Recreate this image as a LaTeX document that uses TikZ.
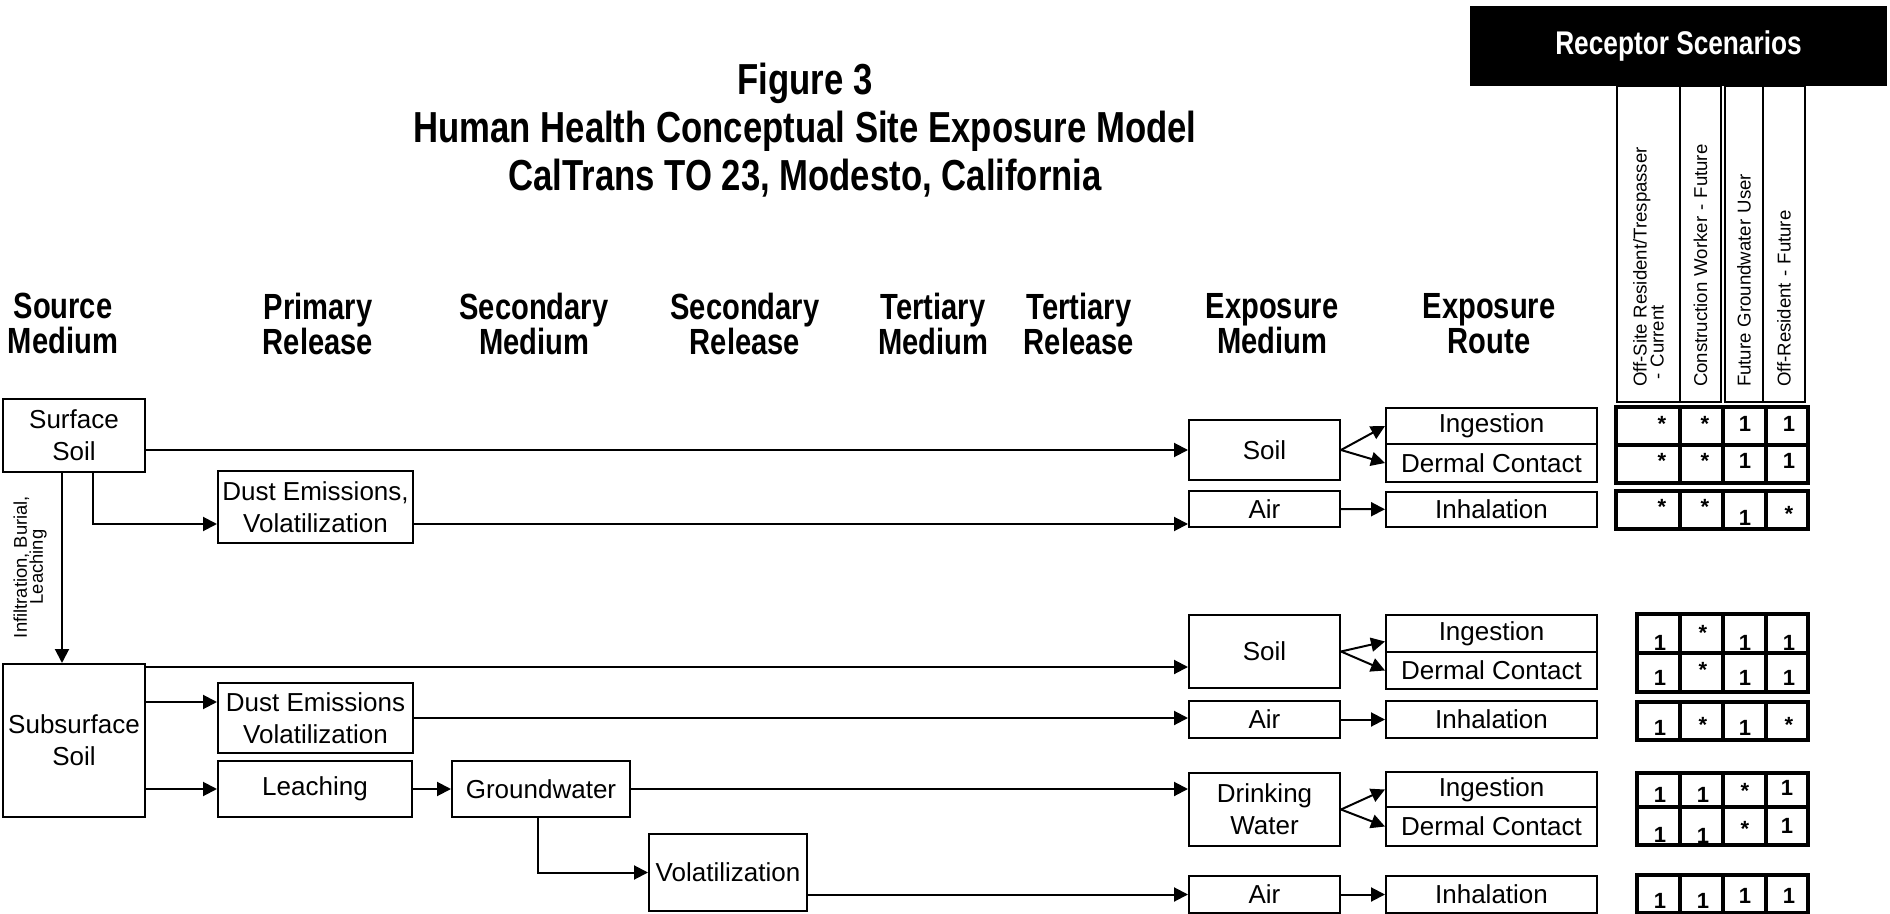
\documentclass[tikz,border=0pt]{standalone}
\usepackage{fontspec}
\setmainfont{Liberation Sans}
\newfontfamily\narrowsf[FakeStretch=0.8]{Liberation Sans}
\usetikzlibrary{arrows.meta, positioning}

\tikzset{
	box/.style={draw, line width=1pt, inner sep=1pt, align=center, font=\fontsize{13}{15.8}\selectfont},
	arr/.style={-{Triangle[length=7pt,width=7pt]}, line width=1pt},
	hdr/.style={align=center, font=\narrowsf\bfseries\fontsize{18.2}{17.5}\selectfont},
	colhead/.style={draw, line width=1.2pt, rotate=90, minimum width=158pt, text width=143pt, inner xsep=7.5pt, inner ysep=0pt, align=left, font=\fontsize{9.3}{8.5}\selectfont},
	cell/.style={line width=1.7pt},
	entry/.style={anchor=base, inner sep=0pt, font=\bfseries\fontsize{11}{13}\selectfont}
}

\begin{document}
\begin{tikzpicture}[x=0.5pt, y=-0.5pt]
				\useasboundingbox (0,0) rectangle (1890,914);

				\node (Title) [align=center, font=\narrowsf\bfseries\fontsize{21.7}{24}\selectfont] at (805,130) {Figure 3\\Human Health Conceptual Site Exposure Model\\CalTrans TO 23, Modesto, California};

				\node (HSrc) [hdr] at (63,323.5) {Source\\Medium};
				\node (HPri) [hdr] at (318,323.5) {Primary\\Release};
				\node (HSecM) [hdr] at (534,323.5) {Secondary\\Medium};
				\node (HSecR) [hdr] at (745,323.5) {Secondary\\Release};
				\node (HTerM) [hdr] at (933,323.5) {Tertiary\\Medium};
				\node (HTerR) [hdr] at (1079,323.5) {Tertiary\\Release};
				\node (HExpM) [hdr] at (1272,323.5) {Exposure\\Medium};
				\node (HExpR) [hdr] at (1489,323.5) {Exposure\\Route};

				% sources and releases
				\node (SurfSoil) [box, minimum width=71pt, minimum height=36.5pt] at (74,435.5) {Surface\\Soil};
				\node (DustA) [box, minimum width=97.5pt, minimum height=36pt] at (315.5,507) {Dust Emissions,\\Volatilization};
				\node (SubSoil) [box, minimum width=71pt, minimum height=76.5pt] at (74,740.5) {Subsurface\\Soil};
				\node (DustB) [box, minimum width=97.5pt, minimum height=35pt] at (315.5,718) {Dust Emissions\\Volatilization};
				\node (Leach) [box, minimum width=97pt, minimum height=28pt] at (315,789) {Leaching};
				\node (GW) [box, minimum width=89pt, minimum height=28pt] at (541,789) {Groundwater};
				\node (Volat) [box, minimum width=79pt, minimum height=38.5pt] at (728,872.5) {Volatilization};

				\node (Infil) [rotate=90, align=center, font=\fontsize{9.2}{8}\selectfont] at (30,567) {Infiltration, Burial,\\Leaching};

				% exposure media
				\node (SoilA) [box, minimum width=75.5pt, minimum height=30pt] at (1264.5,450) {Soil};
				\node (AirA) [box, minimum width=75.5pt, minimum height=18pt] at (1264.5,509) {Air};
				\node (SoilB) [box, minimum width=75.5pt, minimum height=36.5pt] at (1264.5,651.5) {Soil};
				\node (AirB) [box, minimum width=75.5pt, minimum height=18.5pt] at (1264.5,719.5) {Air};
				\node (Drink) [box, minimum width=75.5pt, minimum height=36.5pt] at (1264.5,809.5) {Drinking\\Water};
				\node (AirC) [box, minimum width=75.5pt, minimum height=18.5pt] at (1264.5,894.5) {Air};

				% exposure routes
				\node (IngA) [box, minimum width=105.5pt, minimum height=18pt] at (1491.5,426) {Ingestion};
				\node (DermA) [box, minimum width=105.5pt, minimum height=19pt] at (1491.5,463) {Dermal Contact};
				\node (InhA) [box, minimum width=105.5pt, minimum height=17.5pt] at (1491.5,509.5) {Inhalation};
				\node (IngB) [box, minimum width=105.5pt, minimum height=18.5pt] at (1491.5,633.5) {Ingestion};
				\node (DermB) [box, minimum width=105.5pt, minimum height=18.5pt] at (1491.5,670.5) {Dermal Contact};
				\node (InhB) [box, minimum width=105.5pt, minimum height=18.5pt] at (1491.5,719.5) {Inhalation};
				\node (IngC) [box, minimum width=105.5pt, minimum height=17.5pt] at (1491.5,789.5) {Ingestion};
				\node (DermC) [box, minimum width=105.5pt, minimum height=19.5pt] at (1491.5,826.5) {Dermal Contact};
				\node (InhC) [box, minimum width=105.5pt, minimum height=18.5pt] at (1491.5,894.5) {Inhalation};

				% surface soil paths
				\draw[arr] (SurfSoil.east |- SoilA.west) -- (SoilA.west);
				\coordinate (DustInA) at ([yshift=-8.5pt]DustA.west);
				\coordinate (DustOutA) at ([yshift=-8.5pt]DustA.east);
				\draw[arr] ([xshift=9.5pt]SurfSoil.south) |- (DustInA);
				\draw[arr] (DustOutA) -- (DustOutA -| AirA.west);
				\draw[arr] (AirA) -- (InhA);
				\draw[arr] (SoilA.east) -- (IngA.west);
				\draw[arr] (SoilA.east) -- (DermA.west);
				\draw[arr] ([xshift=-6pt]SurfSoil.south) -- ([xshift=-6pt]SubSoil.north);

				% subsurface soil paths
				\coordinate (SubTop) at ([yshift=-2pt]SubSoil.north east);
				\draw[arr] (SubTop) -- (SubTop -| SoilB.west);
				\coordinate (DustInB) at ([yshift=8pt]DustB.west);
				\draw[arr] (DustInB -| SubSoil.east) -- (DustInB);
				\draw[arr] (DustB.east) -- (DustB.east -| AirB.west);
				\draw[arr] (AirB) -- (InhB);
				\draw[arr] (SoilB.east) -- ([yshift=-4pt]IngB.west);
				\draw[arr] (SoilB.east) -- (DermB.west);
				\draw[arr] (SubSoil.east |- Leach.west) -- (Leach.west);
				\draw[arr] (Leach) -- (GW);
				\draw[arr] (GW.east) -- (GW.east -| Drink.west);
				\draw[arr] (Drink.east) -- (IngC.west);
				\draw[arr] (Drink.east) -- (DermC.west);
				\draw[arr] ([xshift=-1.5pt]GW.south) |- (Volat.west);
				\draw[arr] (Volat.east |- AirC.west) -- (AirC.west);
				\draw[arr] (AirC) -- (InhC);

				% receptor scenarios
				\node (RecHead) [fill=black, text=white, minimum width=208.5pt, minimum height=40pt, font=\narrowsf\bfseries\fontsize{16.4}{18}\selectfont] at (1678.5,46) {Receptor Scenarios};
				\node (ColA) [colhead, minimum height=31.5pt] at (1648.5,244) {Off-Site Resident/Trespasser\\\hspace*{0.4em}- Current};
				\node (ColB) [colhead, minimum height=20.5pt] at (1700.5,244) {Construction Worker - Future};
				\node (ColC) [colhead, minimum height=19pt] at (1744,244) {Future Groundwater User};
				\node (ColD) [colhead, minimum height=21pt] at (1784,244) {Off-Resident - Future};

				\draw[cell] (1616,407) rectangle (1808,445) (1616,445) rectangle (1808,483) (1616,491) rectangle (1808,529);
				\draw[cell] (1680,407) -- (1680,483) (1723,407) -- (1723,483) (1766,407) -- (1766,483);
				\draw[cell] (1680,491) -- (1680,529) (1723,491) -- (1723,529) (1766,491) -- (1766,529);
				\draw[cell] (1637,614) rectangle (1808,653) (1637,653) rectangle (1808,692) (1637,702) rectangle (1808,740);
				\draw[cell] (1637,773) rectangle (1808,807) (1637,807) rectangle (1808,845) (1637,875) rectangle (1808,913);
				\draw[cell] (1680,614) -- (1680,692) (1723,614) -- (1723,692) (1766,614) -- (1766,692);
				\draw[cell] (1680,702) -- (1680,740) (1723,702) -- (1723,740) (1766,702) -- (1766,740);
				\draw[cell] (1680,773) -- (1680,845) (1723,773) -- (1723,845) (1766,773) -- (1766,845);
				\draw[cell] (1680,875) -- (1680,913) (1723,875) -- (1723,913) (1766,875) -- (1766,913);

				\node (E1a) [entry] at (1662,432) {*}; \node (E1b) [entry] at (1705,432) {*};
				\node (E1c) [entry] at (1745,432) {1}; \node (E1d) [entry] at (1789,432) {1};
				\node (E2a) [entry] at (1662,469) {*}; \node (E2b) [entry] at (1705,469) {*};
				\node (E2c) [entry] at (1745,469) {1}; \node (E2d) [entry] at (1789,469) {1};
				\node (E3a) [entry] at (1662,515) {*}; \node (E3b) [entry] at (1705,515) {*};
				\node (E3c) [entry] at (1745,525) {1}; \node (E3d) [entry] at (1789,521) {*};
				\node (E4a) [entry] at (1660,650) {1}; \node (E4b) [entry] at (1703,640) {*};
				\node (E4c) [entry] at (1745,650) {1}; \node (E4d) [entry] at (1789,650) {1};
				\node (E5a) [entry] at (1660,685) {1}; \node (E5b) [entry] at (1703,677) {*};
				\node (E5c) [entry] at (1745,685) {1}; \node (E5d) [entry] at (1789,685) {1};
				\node (E6a) [entry] at (1660,735) {1}; \node (E6b) [entry] at (1703,732) {*};
				\node (E6c) [entry] at (1745,735) {1}; \node (E6d) [entry] at (1789,732) {*};
				\node (E7a) [entry] at (1660,802) {1}; \node (E7b) [entry] at (1703,802) {1};
				\node (E7c) [entry] at (1745,798) {*}; \node (E7d) [entry] at (1787,795) {1};
				\node (E8a) [entry] at (1660,842) {1}; \node (E8b) [entry] at (1703,843) {1};
				\node (E8c) [entry] at (1745,836) {*}; \node (E8d) [entry] at (1787,833) {1};
				\node (E9a) [entry] at (1660,908) {1}; \node (E9b) [entry] at (1703,908) {1};
				\node (E9c) [entry] at (1745,903) {1}; \node (E9d) [entry] at (1789,903) {1};
\end{tikzpicture}
\end{document}
